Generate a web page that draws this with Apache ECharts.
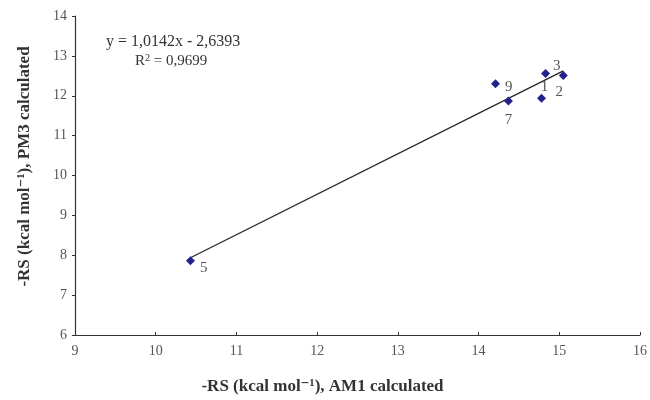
<!DOCTYPE html>
<html>
<head>
<meta charset="utf-8">
<script src="https://cdn.jsdelivr.net/npm/echarts@6/dist/echarts.min.js"></script>
<style>
  html, body { margin: 0; padding: 0; background: #fff; }
  #chart-container { width: 650px; height: 400px; }
</style>
</head>
<body>
<div id="chart-container"></div>
<script>
var chartDom = document.getElementById('chart-container');
var myChart = echarts.init(chartDom);

// compound numbers and their -RS values
var labels = ['5', '9', '7', '1', '3', '2'];
var am1 = [10.43, 14.21, 14.37, 14.78, 14.83, 15.05];
var pm3 = [7.86, 12.30, 11.87, 11.94, 12.56, 12.51];

// trend line from the reference equation
var slope = 1.0142;
var intercept = -2.6393;

var labelSpots = {
  '5': { position: 'right', offset: [0, 7] },
  '9': { position: 'right', offset: [0, 3] },
  '7': { position: 'bottom', offset: [0, 2] },
  '1': { position: 'top', offset: [3, 6] },
  '3': { position: 'right', offset: [-2, -7] },
  '2': { position: 'bottom', offset: [-4, 0] }
};

var points = labels.map(function (name, i) {
  return {
    name: name,
    value: [am1[i], pm3[i]],
    label: labelSpots[name]
  };
});

var xMin = Math.min.apply(null, am1);
var xMax = Math.max.apply(null, am1);
var trend = [
  [xMin, slope * xMin + intercept],
  [xMax, slope * xMax + intercept]
];

var serif = '"Liberation Serif", "DejaVu Serif", serif';

var option = {
  animation: false,
  grid: { left: 75, right: 10, top: 16, bottom: 65 },
  xAxis: {
    type: 'value',
    min: 9, max: 16, interval: 1,
    name: '-RS (kcal mol\u207B\u00B9), AM1 calculated',
    nameLocation: 'middle',
    nameGap: 43,
    nameTextStyle: {
      fontFamily: serif, fontSize: 17, fontWeight: 'bold', color: '#333',
      padding: [0, 70, 0, 0]
    },
    axisLine: { lineStyle: { color: '#333', width: 1.2 } },
    axisTick: { inside: true, length: 3, lineStyle: { color: '#333' } },
    axisLabel: { fontFamily: serif, fontSize: 14, color: '#555', margin: 9 },
    splitLine: { show: false }
  },
  yAxis: {
    type: 'value',
    min: 6, max: 14, interval: 1,
    name: '-RS (kcal mol\u207B\u00B9), PM3 calculated',
    nameLocation: 'middle',
    nameGap: 42,
    nameTextStyle: {
      fontFamily: serif, fontSize: 17, fontWeight: 'bold', color: '#333',
      padding: [0, 0, 0, 18]
    },
    axisLine: { show: true, lineStyle: { color: '#333', width: 1.2 } },
    axisTick: { show: true, length: 3, lineStyle: { color: '#333' } },
    axisLabel: { fontFamily: serif, fontSize: 14, color: '#555', margin: 8 },
    splitLine: { show: false }
  },
  graphic: [
    {
      type: 'text', left: 106, top: 34,
      style: { text: 'y = 1,0142x - 2,6393', fontFamily: serif, fontSize: 16, fill: '#333' }
    },
    {
      type: 'text', left: 135, top: 53,
      style: {
        text: 'R{s|2} = 0,9699',
        fontFamily: serif, fontSize: 15, fill: '#333',
        rich: { s: { fontSize: 10, verticalAlign: 'top', padding: [0, 0, 6, 0], fontFamily: serif, fill: '#333' } }
      }
    }
  ],
  series: [
    {
      type: 'line',
      data: trend,
      symbol: 'none',
      lineStyle: { color: '#222', width: 1.2 },
      silent: true,
      z: 1
    },
    {
      type: 'scatter',
      data: points,
      symbol: 'diamond',
      symbolSize: 9,
      itemStyle: { color: '#22228e', opacity: 1 },
      label: {
        show: true,
        formatter: '{b}',
        fontFamily: serif,
        fontSize: 15,
        color: '#555'
      },
      z: 3
    }
  ]
};

myChart.setOption(option);
</script>
</body>
</html>
